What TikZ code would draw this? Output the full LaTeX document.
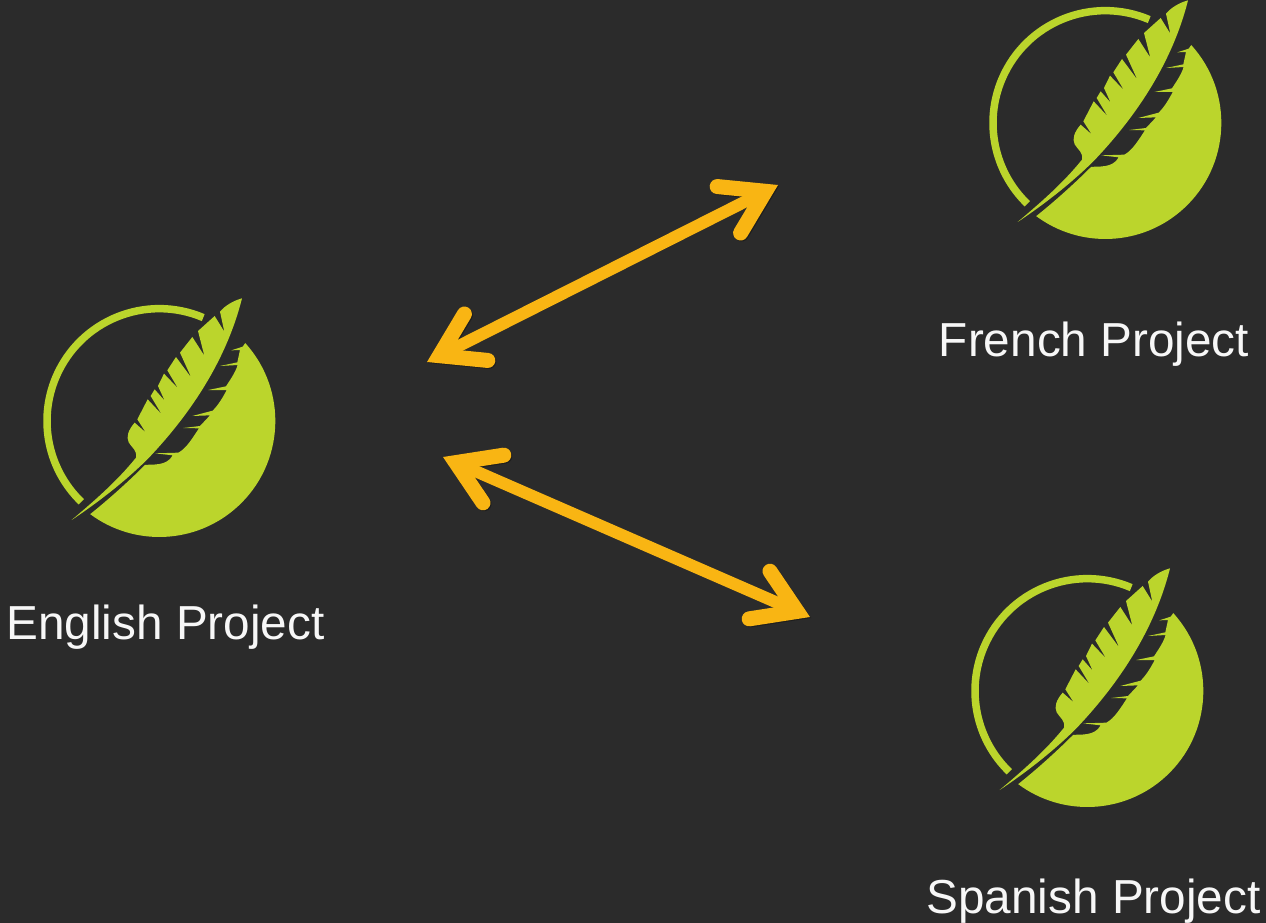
\documentclass[tikz,border=0pt]{standalone}
\usepackage{fontspec}
\setmainfont{Liberation Sans}
\usetikzlibrary{arrows.meta,positioning}
\definecolor{slatebg}{RGB}{43,43,43}
\definecolor{quillgreen}{RGB}{187,213,44}
\definecolor{linkamber}{RGB}{249,181,19}

\tikzset{
    quill/.pic={
        \begin{scope}[scale=1/3]
            % Ring, cut open behind the feather
            \draw[quillgreen, line width=7.5pt] (388,408) ++(-67:337) arc[start angle=-67, end angle=-226, radius=337];
            % Disk with the barbs along its upper edge
            \fill[quillgreen] (388,408) ++(-42.2:348) arc[start angle=-42.2, end angle=126.6, radius=348]
                .. controls (240,640) and (300,585) .. (345,540)
                .. controls (365,537) and (410,545) .. (428,511) -- (375,505) -- (445,503)
                .. controls (470,490) and (490,455) .. (507,430) -- (460,429) -- (510,423)
                -- (540,391) -- (487,393) -- (548,377)
                .. controls (565,360) and (580,335) .. (590,315) -- (535,315) -- (588,304)
                .. controls (600,285) and (615,265) .. (623,240) -- (570,243) -- (622,232)
                -- (630,195) -- (604,196) -- (638,185) -- cycle;
            % Feather with its notches
            \fill[quillgreen] (125,705)
                .. controls (200,655) and (285,590) .. (355,520)
                .. controls (450,420) and (582,255) .. (636,40)
                .. controls (610,47) and (585,62) .. (570,80)
                -- (583,140) -- (554,93) -- (504,138) -- (523,212) -- (487,156)
                -- (450,203) -- (484,278) -- (438,216) -- (412,256) -- (444,310) -- (402,266)
                -- (384,303) -- (404,347) -- (374,313) -- (362,333) -- (395,388) -- (353,343)
                -- (322,403) -- (347,442) -- (314,413)
                .. controls (295,435) and (288,455) .. (296,472)
                .. controls (305,488) and (322,495) .. (318,518)
                .. controls (260,590) and (190,650) .. (125,705) -- cycle;
        \end{scope}
    }
}

\begin{document}
\begin{tikzpicture}[
        x=1pt, y=-1pt,
        label/.style={text=white!97!black, anchor=base, inner sep=0pt, font=\fontsize{47.7}{50}\selectfont},
        link/.style={linkamber, line width=12pt, {Straight Barb[length=41pt, width=52pt, line width=15pt, line cap=round, line join=miter]}-{Straight Barb[length=41pt, width=52pt, line width=15pt, line cap=round, line join=miter]},
            preaction={draw=black, opacity=0.3, transform canvas={shift={(1pt,-1pt)}}}}
    ]
        \fill[slatebg] (0,0) rectangle (1266,923);
        \useasboundingbox (0,0) rectangle (1266,923);

        \pic (english) at (30,285) {quill};
        \pic (french) at (976,-13) {quill};
        \pic (spanish) at (958,555) {quill};

        \node[label] (englishlabel) at (165.5,639) {English Project};
        \node[label] (frenchlabel) at (1094,356) {French Project};
        \node[label] (spanishlabel) at (1093.5,913) {Spanish Project};

        \coordinate (upperleft) at (427,362);
        \coordinate (upperright) at (778,185);
        \coordinate (lowerleft) at (443,457);
        \coordinate (lowerright) at (810,617);

        % Connections
        \draw[link] (upperleft) -- (upperright);
        \draw[link] (lowerleft) -- (lowerright);
    \end{tikzpicture}
\end{document}
